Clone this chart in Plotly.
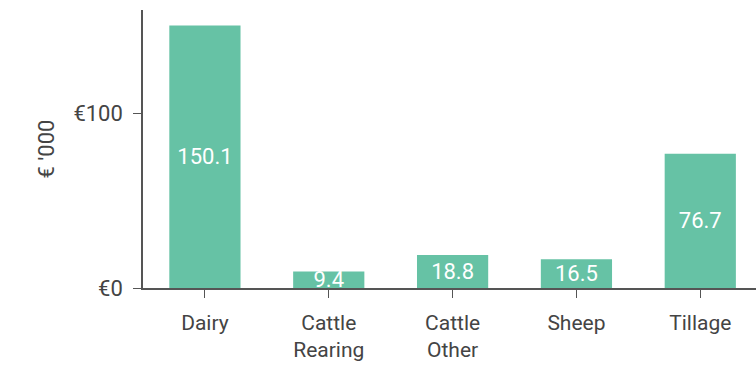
import plotly.graph_objects as go

categories = ["Dairy", "Cattle<br>Rearing", "Cattle<br>Other", "Sheep", "Tillage"]
values = [150.1, 9.4, 18.8, 16.5, 76.7]
y_tick_vals = [0, 100]
y_tick_text = ["€0", "€100"]

bar_color = "#66c2a5"
axis_color = "#555555"
text_color = "#444444"
font_size = 22

fig = go.Figure(
    go.Bar(
        x=list(range(len(categories))),
        y=values,
        marker=dict(color=bar_color, line=dict(width=0)),
        text=[f"{v:.1f}" for v in values],
        textposition="inside",
        insidetextanchor="middle",
        textangle=0,
        textfont=dict(family="Roboto", size=font_size, color="white"),
        cliponaxis=False,
    )
)

fig.update_layout(
    width=756,
    height=366,
    margin=dict(l=143, r=0, t=10, b=78),
    paper_bgcolor="white",
    plot_bgcolor="white",
    bargap=0.425,
    showlegend=False,
    uniformtext=dict(mode="show", minsize=font_size),
    font=dict(family="Roboto", size=font_size, color=text_color),
)

fig.update_xaxes(
    range=[-0.5, 4.45],
    tickvals=list(range(len(categories))),
    ticktext=categories,
    showline=True,
    linecolor=axis_color,
    linewidth=1.5,
    ticks="outside",
    ticklen=8,
    tickcolor=axis_color,
    showgrid=False,
    zeroline=False,
    ticklabelstandoff=7,
    tickfont=dict(family="Roboto", size=font_size - 1, color=text_color),
)

fig.update_yaxes(
    range=[0, 158.9],
    tickvals=y_tick_vals,
    ticktext=y_tick_text,
    showline=True,
    linecolor=axis_color,
    linewidth=1.5,
    ticks="outside",
    ticklen=8,
    tickcolor=axis_color,
    showgrid=False,
    zeroline=False,
    ticklabelstandoff=6,
    tickfont=dict(family="Roboto", size=font_size, color=text_color),
    title=dict(text="€ '000", font=dict(family="Roboto", size=font_size, color=text_color), standoff=13),
)

fig.write_html("out.html")
